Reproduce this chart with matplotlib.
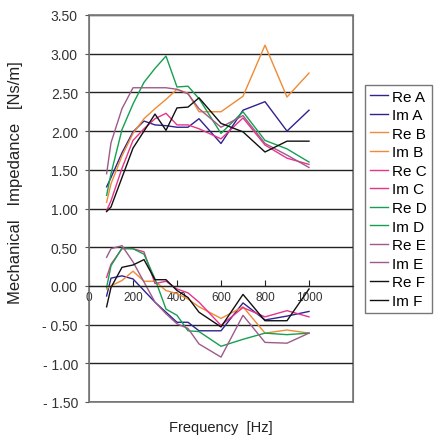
import matplotlib
matplotlib.use("Agg")
import matplotlib.pyplot as plt
from matplotlib.ticker import FuncFormatter

# frequency points [Hz]
freq = [80, 100, 150, 200, 250, 300, 350, 400, 450, 500, 600, 700, 800, 900, 1000]

# real parts (upper group)
re_a = [1.28, 1.40, 1.72, 1.99, 2.13, 2.08, 2.07, 2.05, 2.05, 2.16, 1.84, 2.27, 2.38, 2.00, 2.27]
re_b = [1.08, 1.32, 1.68, 1.97, 2.16, 2.29, 2.41, 2.54, 2.49, 2.25, 2.25, 2.45, 3.11, 2.44, 2.75]
re_c = [0.97, 1.10, 1.52, 1.88, 2.03, 2.16, 2.23, 2.08, 2.08, 2.03, 1.90, 2.17, 1.82, 1.65, 1.57]
re_d = [1.17, 1.45, 2.02, 2.35, 2.63, 2.81, 2.97, 2.57, 2.58, 2.42, 1.97, 2.25, 1.88, 1.77, 1.60]
re_e = [1.45, 1.85, 2.29, 2.56, 2.56, 2.56, 2.56, 2.54, 2.48, 2.29, 2.05, 2.20, 1.84, 1.69, 1.53]
re_f = [0.96, 1.02, 1.40, 1.78, 2.00, 2.22, 2.01, 2.30, 2.31, 2.43, 2.10, 1.99, 1.73, 1.87, 1.87]

# imaginary parts (lower group)
im_a = [-0.13, 0.10, 0.13, 0.09, -0.06, -0.21, -0.34, -0.47, -0.47, -0.58, -0.58, -0.22, -0.44, -0.39, -0.33]
im_b = [-0.04, 0.00, 0.07, 0.19, 0.06, 0.06, -0.06, -0.10, -0.17, -0.27, -0.42, -0.27, -0.61, -0.57, -0.61]
im_c = [0.11, 0.28, 0.48, 0.48, 0.44, 0.03, 0.06, -0.04, -0.09, -0.21, -0.51, -0.28, -0.40, -0.32, -0.40]
im_d = [-0.02, 0.26, 0.49, 0.48, 0.41, 0.09, -0.30, -0.38, -0.58, -0.59, -0.78, -0.69, -0.61, -0.63, -0.61]
im_e = [0.37, 0.48, 0.52, 0.31, 0.05, -0.21, -0.36, -0.49, -0.55, -0.75, -0.92, -0.38, -0.73, -0.74, -0.61]
im_f = [-0.27, -0.02, 0.24, 0.27, 0.34, 0.08, 0.08, -0.06, -0.15, -0.34, -0.53, -0.11, -0.45, -0.45, -0.04]

names = ["Re A", "Im A", "Re B", "Im B", "Re C", "Im C",
         "Re D", "Im D", "Re E", "Im E", "Re F", "Im F"]
series = [re_a, im_a, re_b, im_b, re_c, im_c, re_d, im_d, re_e, im_e, re_f, im_f]
colors = ["#2e2390", "#2e2390", "#f08a34", "#f08a34", "#e8338a", "#e8338a",
          "#14a050", "#14a050", "#9e5a8a", "#9e5a8a", "#111111", "#111111"]

plt.rcParams["font.family"] = ["Liberation Sans", "DejaVu Sans"]

fig = plt.figure(figsize=(4.35, 4.39), dpi=100)
ax = fig.add_axes([89 / 435, 1 - 403 / 439, (353 - 89) / 435, (403 - 16) / 439])

for vals, name, c in zip(series, names, colors):
    ax.plot(freq, vals, color=c, lw=1.0, label=name)

ax.set_xlim(0, 1200)
ax.set_ylim(-1.5, 3.5)
ax.set_yticks([-1.5, -1.0, -0.5, 0, 0.5, 1.0, 1.5, 2.0, 2.5, 3.0, 3.5])
ax.set_xticks([0, 200, 400, 600, 800, 1000])
ax.yaxis.set_major_formatter(FuncFormatter(
    lambda v, _: f"- {abs(v):.2f}" if v < 0 else f"{v:.2f}"))

ax.yaxis.grid(True, color="#222222", lw=1.0)
ax.set_axisbelow(True)

# x axis crosses at 0, plot area keeps a grey frame
ax.spines["bottom"].set_position(("data", 0))
ax.spines["bottom"].set_color("#222222")
for s in ["left", "right", "top"]:
    ax.spines[s].set_color("#777777")
ax.patch.set_edgecolor("#777777")
ax.patch.set_linewidth(1.2)

ax.tick_params(axis="x", direction="in", length=4, pad=4, labelsize=8.5,
               colors="#222222", labelcolor="#333333")
ax.tick_params(axis="y", direction="out", length=3, pad=5, labelsize=10,
               colors="#555555", labelcolor="#333333")

ax.set_ylabel("Mechanical   Impedance   [Ns/m]", fontsize=12, color="#222222")
ax.yaxis.set_label_coords(-0.25, 0.57)
fig.text(221 / 435, 1 - 428 / 439, "Frequency  [Hz]", ha="center", va="center",
         fontsize=10.5, color="#222222")

leg = fig.legend(loc="upper left", bbox_to_anchor=(365 / 435, 1 - 86 / 439),
                 borderaxespad=0, fontsize=11, handlelength=1.2,
                 handletextpad=0.3, labelspacing=0.3, borderpad=0.3,
                 fancybox=False, edgecolor="#777777", framealpha=1)
leg.get_frame().set_linewidth(1.0)

plt.savefig("out.png", dpi=100)
